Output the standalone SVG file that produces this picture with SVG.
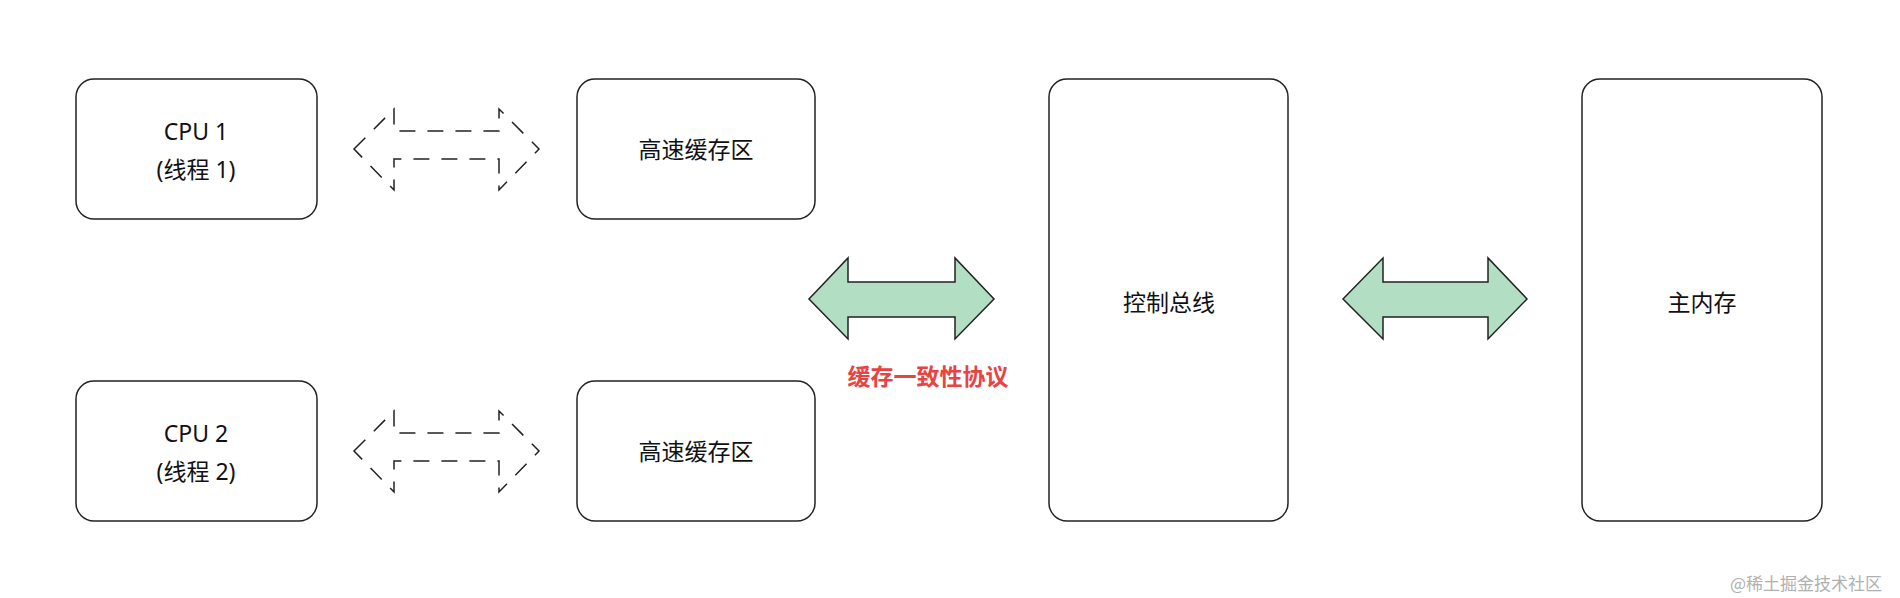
<svg xmlns="http://www.w3.org/2000/svg" width="1900" height="598" viewBox="0 0 1900 598">
<style>
.box{fill:#fff;stroke:#222;stroke-width:1.5}
.t{font-family:"Noto Sans","Noto Sans CJK SC",sans-serif;font-size:23px;fill:#111;text-anchor:middle}
.ga{fill:#b2dfc3;stroke:#222;stroke-width:1.5;stroke-linejoin:miter}
.da{fill:none;stroke:#222;stroke-width:1.5;stroke-dasharray:16 12}
</style>
<rect width="1900" height="598" fill="#fff"/>
<g id="cpu1"><rect class="box" x="76" y="79" width="241" height="140" rx="18"/><text class="t" x="196" y="140">CPU 1</text><text class="t" x="196" y="178">(线程 1)</text></g>
<g id="cache1"><rect class="box" x="577" y="79" width="238" height="140" rx="18"/><text class="t" x="696" y="158">高速缓存区</text></g>
<g id="cpu2"><rect class="box" x="76" y="381" width="241" height="140" rx="18"/><text class="t" x="196" y="442">CPU 2</text><text class="t" x="196" y="480">(线程 2)</text></g>
<g id="cache2"><rect class="box" x="577" y="381" width="238" height="140" rx="18"/><text class="t" x="696" y="460">高速缓存区</text></g>
<g id="bus"><rect class="box" x="1049" y="79" width="239" height="442" rx="18"/><text class="t" x="1169" y="311">控制总线</text></g>
<g id="mem"><rect class="box" x="1582" y="79" width="240" height="442" rx="18"/><text class="t" x="1702" y="311">主内存</text></g>
<g id="connectors">
<path class="da" d="M354 149 L394 109 L394 131 L499 131 L499 109 L539 149 L499 190 L499 159 L394 159 L394 190 Z"/>
<path class="da" d="M354 451 L394 411 L394 433 L499 433 L499 411 L539 451 L499 492 L499 461 L394 461 L394 492 Z"/>
<path class="ga" d="M809 299 L848 258 L848 282 L955 282 L955 258 L994 299 L955 339 L955 317 L848 317 L848 339 Z"/>
<path class="ga" d="M1343 299 L1383 258 L1383 282 L1488 282 L1488 258 L1527 299 L1488 339 L1488 317 L1383 317 L1383 339 Z"/>
</g>
<text x="928" y="385" font-family="Noto Sans CJK SC,sans-serif" font-weight="bold" font-size="23" fill="#e84343" text-anchor="middle">缓存一致性协议</text>
<text x="1882" y="590" font-family="Noto Sans CJK SC,sans-serif" font-size="17" fill="#b0b0b0" text-anchor="end">@稀土掘金技术社区</text>
</svg>
